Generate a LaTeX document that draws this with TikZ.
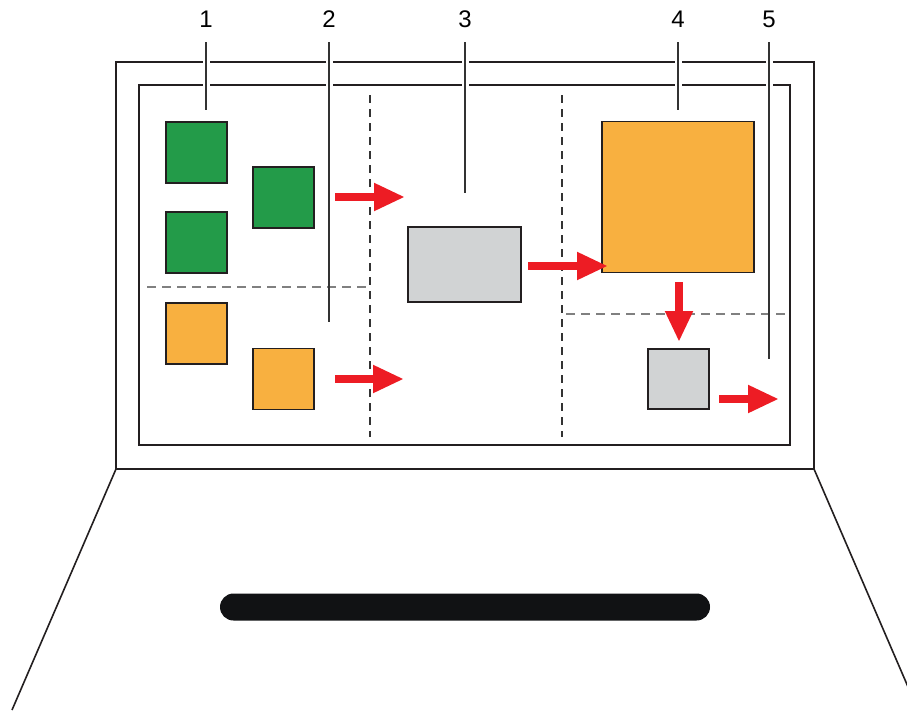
\documentclass[tikz,border=0pt]{standalone}
\usepackage{fontspec}
\setmainfont{Liberation Sans}
\usetikzlibrary{arrows.meta}
\definecolor{sqgreen}{HTML}{239B49}
\definecolor{sqorange}{HTML}{F8B040}
\definecolor{sqgray}{HTML}{D1D3D4}
\definecolor{arred}{HTML}{ED1C24}
\definecolor{barblack}{HTML}{111214}
\definecolor{edge}{HTML}{231F20}
\definecolor{leadc}{HTML}{333333}
\tikzset{
  frame/.style={draw=edge, line width=2pt},
  sqbox/.style={draw=edge, line width=1.5pt, inner sep=0pt, outer sep=0pt, minimum width=#1pt, minimum height=#1pt},
  greenbox/.style={sqbox=61, fill=sqgreen},
  orangebox/.style={sqbox=61, fill=sqorange},
  leader/.style={draw=leadc, line width=1.3pt},
  halo/.style={draw=white, line width=7pt},
  vdash/.style={draw=leadc, line width=1.2pt, dash pattern=on 8pt off 6pt},
  hdash/.style={draw=gray, line width=1.6pt, dash pattern=on 9pt off 6pt},
  redarrow/.style={draw=arred, line width=8pt, -{Triangle[length=31pt,width=26pt]}},
  numlabel/.style={font=\fontsize{24pt}{28pt}\selectfont, inner sep=0pt, anchor=center},
}
\begin{document}
\begin{tikzpicture}[x=1pt,y=-1pt]
\useasboundingbox (0,0) rectangle (907,710);
\clip (0,0) rectangle (907,710);
% laptop
\draw[frame] (116,62) rectangle (814,469);
\draw[frame] (139,85) rectangle (790,445);
\draw[frame, line width=1.6pt] (116,469) -- (12,710);
\draw[frame, line width=1.6pt] (814,469) -- (918,710);
\node[fill=barblack, rounded corners=13.5pt, minimum width=490pt, minimum height=27pt, inner sep=0pt] (bar) at (465,607) {};
% halos of leader lines
\draw[halo] (206,55) -- (206,100);
\draw[halo] (329,55) -- (329,100);
\draw[halo] (465,55) -- (465,100);
\draw[halo] (678,55) -- (678,100);
\draw[halo] (769,55) -- (769,100);
% dashed divisions
\draw[vdash] (370,95) -- (370,437);
\draw[vdash] (562,95) -- (562,437);
\draw[hdash] (147,287) -- (368,287);
\draw[hdash] (566,314) -- (788,314);
% squares
\node[greenbox] (g1) at (196.5,152.5) {};
\node[greenbox] (g2) at (283.5,197.5) {};
\node[greenbox] (g3) at (196.5,242.5) {};
\node[orangebox] (o1) at (196.5,333.5) {};
\node[orangebox] (o2) at (283.5,379) {};
\node[draw=edge, line width=1.5pt, fill=sqgray, inner sep=0pt, minimum width=113pt, minimum height=75pt] (mid) at (464.5,264.5) {};
\node[draw=edge, line width=1.5pt, fill=sqorange, inner sep=0pt, minimum width=152pt, minimum height=151pt] (big) at (678,197) {};
\node[draw=edge, line width=1.5pt, fill=sqgray, inner sep=0pt, minimum width=61pt, minimum height=60pt] (small) at (678.5,379) {};
% labels and leader lines
\node[numlabel] (n1) at (206,19) {1};
\node[numlabel] (n2) at (329,19) {2};
\node[numlabel] (n3) at (465,19) {3};
\node[numlabel] (n4) at (678,19) {4};
\node[numlabel] (n5) at (769,19) {5};
\coordinate (e1) at (206,110);
\coordinate (e2) at (329,322);
\coordinate (e3) at (465,193);
\coordinate (e4) at (678,110);
\coordinate (e5) at (769,359);
\draw[leader] (206,42) -- (e1);
\draw[leader] (329,42) -- (e2);
\draw[leader] (465,42) -- (e3);
\draw[leader] (678,42) -- (e4);
\draw[leader] (769,42) -- (e5);
% red arrows
\coordinate (a1s) at (335,197); \coordinate (a1e) at (405,197);
\coordinate (a2s) at (335,379); \coordinate (a2e) at (404,379);
\coordinate (a3s) at (528,266); \coordinate (a3e) at (608,266);
\coordinate (a4s) at (679,282); \coordinate (a4e) at (679,342);
\coordinate (a5s) at (719,399); \coordinate (a5e) at (779,399);
\draw[redarrow] (a1s) -- (a1e);
\draw[redarrow] (a2s) -- (a2e);
\draw[redarrow] (a3s) -- (a3e);
\draw[redarrow] (a4s) -- (a4e);
\draw[redarrow] (a5s) -- (a5e);
\end{tikzpicture}
\end{document}
